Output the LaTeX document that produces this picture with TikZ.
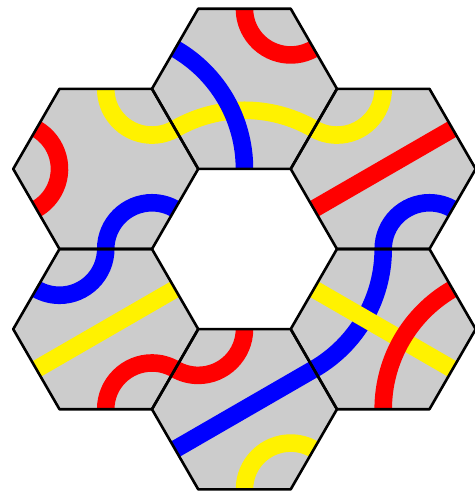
\documentclass[tikz,border=0pt]{standalone}
\definecolor{tilegray}{RGB}{204,204,204}

\begin{document}
\begin{tikzpicture}[
  tile/.style={fill=tilegray},
  rim/.style={draw=black, line width=0.8pt, line join=round},
  track/.style={line width=0.19cm},
]
\useasboundingbox (-2.643,-2.681) rectangle (2.492,2.692);

% six tiles round the hole
\foreach \a in {30,90,...,330}
  \fill[tile, shift={(\a:1.732)}] (0:1) -- (60:1) -- (120:1) -- (180:1) -- (240:1) -- (300:1) -- cycle;

% top tile
\begin{scope}[shift={(90:1.732)}]
  \draw[track, yellow] (210:0.866) arc[start angle=120, end angle=60, radius=1.5];
  \draw[track, red] (30:0.866) arc[start angle=-60, end angle=-180, radius=0.5];
  \draw[track, blue] (150:0.866) arc[start angle=60, end angle=0, radius=1.5];
\end{scope}

% upper left tile
\begin{scope}[shift={(150:1.732)}]
  \draw[track, red] (150:0.866) arc[start angle=60, end angle=-60, radius=0.5];
  \draw[track, yellow] (30:0.866) arc[start angle=-60, end angle=-180, radius=0.5];
  \draw[track, blue] (270:0.866) arc[start angle=180, end angle=60, radius=0.5];
\end{scope}

% lower left tile
\begin{scope}[shift={(210:1.732)}]
  \draw[track, blue] (90:0.866) arc[start angle=0, end angle=-120, radius=0.5];
  \draw[track, yellow] (30:0.866) -- (210:0.866);
  \draw[track, red] (270:0.866) arc[start angle=180, end angle=60, radius=0.5];
\end{scope}

% bottom tile
\begin{scope}[shift={(270:1.732)}]
  \draw[track, red] (90:0.866) arc[start angle=0, end angle=-120, radius=0.5];
  \draw[track, blue] (210:0.866) -- (30:0.866);
  \draw[track, yellow] (270:0.866) arc[start angle=180, end angle=60, radius=0.5];
\end{scope}

% lower right tile
\begin{scope}[shift={(330:1.732)}]
  \draw[track, blue] (90:0.866) arc[start angle=0, end angle=-60, radius=1.5];
  \draw[track, yellow] (150:0.866) -- (330:0.866);
  \draw[track, red] (270:0.866) arc[start angle=180, end angle=120, radius=1.5];
\end{scope}

% upper right tile
\begin{scope}[shift={(30:1.732)}]
  \draw[track, yellow] (90:0.866) arc[start angle=0, end angle=-120, radius=0.5];
  \draw[track, red] (210:0.866) -- (30:0.866);
  \draw[track, blue] (270:0.866) arc[start angle=180, end angle=60, radius=0.5];
\end{scope}

% outlines on top
\foreach \a in {30,90,...,330}
  \draw[rim, shift={(\a:1.732)}] (0:1) -- (60:1) -- (120:1) -- (180:1) -- (240:1) -- (300:1) -- cycle;
\end{tikzpicture}
\end{document}
